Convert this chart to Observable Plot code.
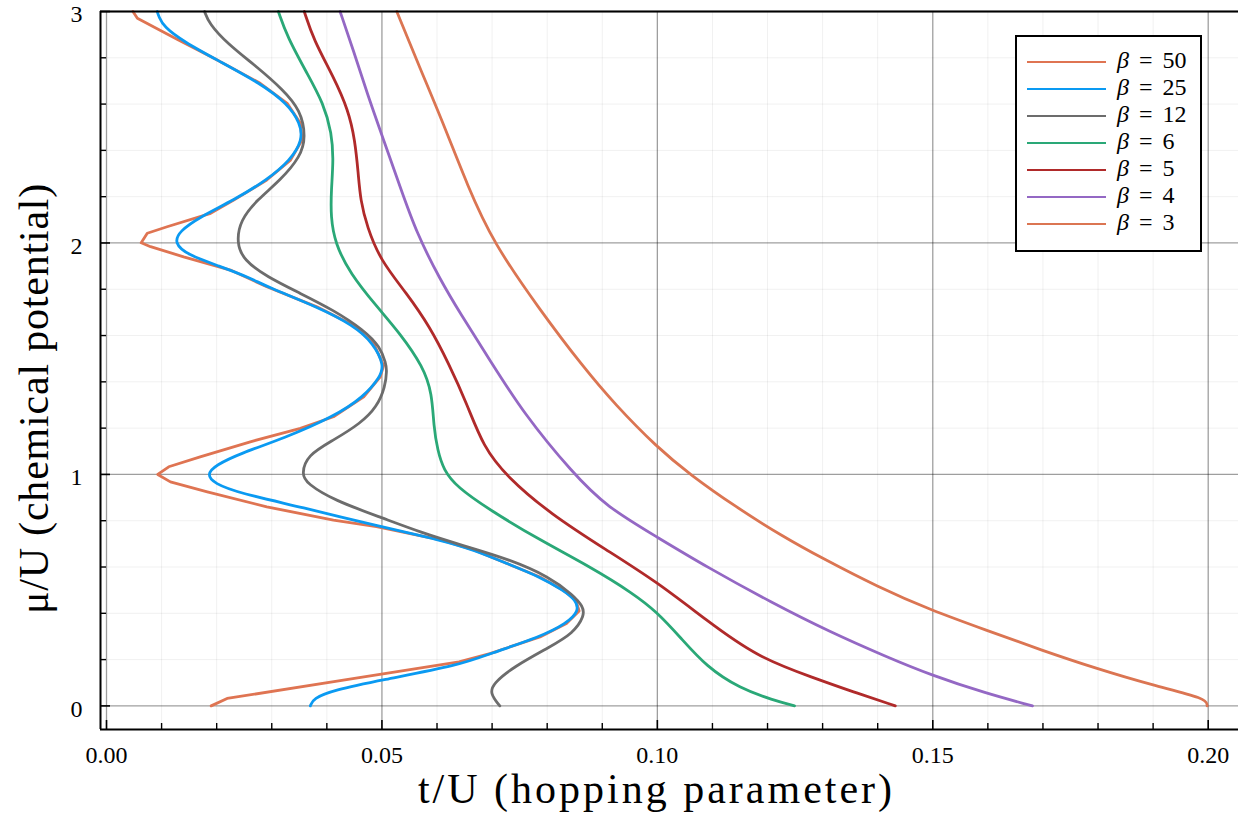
<!DOCTYPE html>
<html>
<head>
<meta charset="utf-8">
<script src="https://cdn.jsdelivr.net/npm/d3@7"></script>
<script src="https://cdn.jsdelivr.net/npm/@observablehq/plot@0.6"></script>
<style>
  body { margin: 0; background: #fff; }
  #wrap { position: relative; width: 1238px; height: 820px; overflow: hidden; }
  #chart svg { display: block; }
  #legend { position: absolute; left: 1015px; top: 35px; width: 183px; height: 213px;
            border: 2px solid #000; background: #fff;
            font-family: "Liberation Serif", serif; font-size: 24px; color: #000; }
  .row { position: absolute; left: 0; height: 27px; width: 100%; }
  .swatch { position: absolute; left: 10px; top: 12px; width: 79px; height: 0; border-top: 2.8px solid; }
  .lab { position: absolute; left: 100px; top: -2px; line-height: 27px; word-spacing: 4px; white-space: nowrap; }
  .lab i { font-style: italic; }
</style>
</head>
<body>
<div id="wrap">
  <div id="chart"></div>
  <div id="legend"></div>
</div>
<script>
// ---------- data: [mu/U, t/U] pairs ----------
const beta50 = [[0.000,0.0190],[0.032,0.0219],[0.111,0.0430],[0.190,0.0640],[0.226,0.0696],[0.298,0.0787],[0.356,0.0835],[0.410,0.0858],[0.457,0.0852],[0.500,0.0829],[0.557,0.0787],[0.615,0.0727],[0.673,0.0668],[0.716,0.0608],[0.774,0.0490],[0.803,0.0412],[0.860,0.0291],[0.925,0.0183],[0.968,0.0116],[1.000,0.0093],[1.033,0.0113],[1.076,0.0170],[1.141,0.0261],[1.199,0.0352],[1.249,0.0412],[1.335,0.0467],[1.422,0.0497],[1.470,0.0503],[1.566,0.0485],[1.645,0.0448],[1.724,0.0382],[1.811,0.0291],[1.883,0.0225],[1.940,0.0140],[1.984,0.0080],[2.001,0.0063],[2.042,0.0074],[2.070,0.0110],[2.128,0.0189],[2.185,0.0231],[2.272,0.0291],[2.358,0.0334],[2.445,0.0355],[2.517,0.0352],[2.603,0.0328],[2.690,0.0279],[2.798,0.0195],[2.880,0.0128],[2.971,0.0056],[3.000,0.0048]];
const beta25 = [[0.000,0.0370],[0.032,0.0375],[0.068,0.0412],[0.111,0.0497],[0.176,0.0642],[0.226,0.0696],[0.298,0.0787],[0.356,0.0835],[0.410,0.0858],[0.457,0.0852],[0.500,0.0829],[0.557,0.0787],[0.615,0.0727],[0.673,0.0668],[0.716,0.0608],[0.774,0.0497],[0.860,0.0352],[0.918,0.0243],[0.961,0.0195],[1.000,0.0182],[1.040,0.0198],[1.091,0.0243],[1.156,0.0322],[1.249,0.0412],[1.335,0.0467],[1.422,0.0497],[1.470,0.0504],[1.566,0.0485],[1.645,0.0448],[1.724,0.0382],[1.811,0.0291],[1.850,0.0260],[1.900,0.0205],[1.950,0.0146],[2.000,0.0123],[2.050,0.0132],[2.113,0.0170],[2.185,0.0231],[2.272,0.0291],[2.358,0.0334],[2.445,0.0356],[2.517,0.0352],[2.603,0.0328],[2.690,0.0279],[2.790,0.0201],[2.870,0.0140],[2.934,0.0104],[2.978,0.0095],[3.000,0.0092]];
const beta12 = [[0.000,0.0714],[0.054,0.0696],[0.097,0.0702],[0.169,0.0739],[0.255,0.0805],[0.313,0.0847],[0.390,0.0868],[0.430,0.0865],[0.478,0.0847],[0.557,0.0805],[0.637,0.0727],[0.694,0.0645],[0.750,0.0570],[0.810,0.0503],[0.889,0.0412],[0.961,0.0364],[1.000,0.0354],[1.083,0.0364],[1.148,0.0412],[1.220,0.0461],[1.292,0.0491],[1.379,0.0506],[1.451,0.0509],[1.480,0.0507],[1.551,0.0497],[1.624,0.0467],[1.710,0.0412],[1.782,0.0352],[1.854,0.0291],[1.926,0.0249],[2.001,0.0236],[2.099,0.0243],[2.185,0.0273],[2.272,0.0316],[2.372,0.0352],[2.459,0.0362],[2.574,0.0352],[2.661,0.0321],[2.761,0.0273],[2.862,0.0219],[2.949,0.0186],[3.000,0.0178]];
const beta6 = [[0.000,0.1249],[0.025,0.1210],[0.075,0.1150],[0.169,0.1089],[0.298,0.1041],[0.406,0.0999],[0.486,0.0956],[0.601,0.0878],[0.716,0.0787],[0.846,0.0696],[0.946,0.0636],[1.019,0.0612],[1.105,0.0601],[1.206,0.0594],[1.350,0.0591],[1.465,0.0575],[1.609,0.0533],[1.724,0.0491],[1.869,0.0442],[1.998,0.0415],[2.113,0.0407],[2.229,0.0408],[2.358,0.0412],[2.474,0.0409],[2.603,0.0394],[2.733,0.0364],[2.891,0.0328],[3.000,0.0312]];
const beta5 = [[0.000,0.1432],[0.061,0.1355],[0.120,0.1285],[0.212,0.1180],[0.370,0.1089],[0.536,0.0999],[0.673,0.0908],[0.831,0.0805],[0.990,0.0727],[1.119,0.0684],[1.307,0.0654],[1.480,0.0621],[1.638,0.0587],[1.782,0.0545],[1.926,0.0497],[2.070,0.0473],[2.185,0.0461],[2.301,0.0457],[2.445,0.0451],[2.574,0.0439],[2.718,0.0412],[2.877,0.0376],[3.000,0.0359]];
const beta4 = [[0.000,0.1681],[0.054,0.1597],[0.133,0.1497],[0.212,0.1416],[0.320,0.1313],[0.443,0.1210],[0.601,0.1089],[0.730,0.0999],[0.860,0.0908],[1.004,0.0847],[1.264,0.0757],[1.494,0.0696],[1.696,0.0642],[1.840,0.0606],[2.042,0.0563],[2.243,0.0533],[2.445,0.0503],[2.647,0.0473],[2.834,0.0448],[3.000,0.0424]];
const beta3 = [[0.000,0.1998],[0.032,0.1998],[0.089,0.1899],[0.162,0.1796],[0.241,0.1697],[0.327,0.1597],[0.414,0.1496],[0.514,0.1400],[0.637,0.1300],[0.730,0.1229],[0.860,0.1142],[1.000,0.1059],[1.118,0.0999],[1.300,0.0924],[1.465,0.0865],[1.710,0.0787],[2.001,0.0702],[2.243,0.0656],[2.531,0.0609],[2.761,0.0568],[3.000,0.0527]];

const seriesLabels = ["β = 50", "β = 25", "β = 12", "β = 6", "β = 5", "β = 4", "β = 3"];
const seriesData   = [beta50, beta25, beta12, beta6, beta5, beta4, beta3];
const seriesColors = ["#DF7452", "#0A9AF2", "#6C6C6C", "#2AA877", "#B02A2A", "#9468C4", "#DB7552"];

const xMajor = [0, 0.05, 0.10, 0.15, 0.20];
const xMinor = [0.01,0.02,0.03,0.04,0.06,0.07,0.08,0.09,0.11,0.12,0.13,0.14,0.16,0.17,0.18,0.19];
const yMajor = [0, 1, 2, 3];
const yMinor = [0.2,0.4,0.6,0.8,1.2,1.4,1.6,1.8,2.2,2.4,2.6,2.8];
const X_DOMAIN = [-0.00109, 0.2055];
const Y_DOMAIN = [-0.102, 3.0];
const X_TITLE = "t/U (hopping parameter)";
const Y_TITLE = "μ/U (chemical potential)";

// ---------- table ----------
const rows = seriesData.flatMap((arr, i) => arr.map(([mu, t]) => ({series: seriesLabels[i], mu, t})));
const sharp = rows.filter(d => d.series === seriesLabels[0]);
const smooth = rows.filter(d => d.series !== seriesLabels[0]);

const axisFont = 24;
const plot = Plot.plot({
  width: 1238,
  height: 820,
  marginLeft: 100,
  marginRight: 0,
  marginTop: 11,
  marginBottom: 91,
  style: {fontFamily: "'Liberation Serif', serif", background: "#fff", color: "#000"},
  x: {domain: X_DOMAIN, axis: null},
  y: {domain: Y_DOMAIN, axis: null},
  color: {domain: seriesLabels, range: seriesColors},
  marks: [
    Plot.gridX(xMinor, {stroke: "#000", strokeOpacity: 0.06, strokeWidth: 1}),
    Plot.gridY(yMinor, {stroke: "#000", strokeOpacity: 0.06, strokeWidth: 1}),
    Plot.gridX(xMajor, {stroke: "#000", strokeOpacity: 0.38, strokeWidth: 1.3}),
    Plot.gridY(yMajor, {stroke: "#000", strokeOpacity: 0.38, strokeWidth: 1.3}),
    Plot.line(sharp, {x: "t", y: "mu", z: "series", stroke: "series", strokeWidth: 2.8, curve: "linear"}),
    Plot.line(smooth, {x: "t", y: "mu", z: "series", stroke: "series", strokeWidth: 2.8, curve: "basis"}),
    Plot.ruleX([X_DOMAIN[0]], {stroke: "#000", strokeWidth: 2}),
    Plot.ruleY([Y_DOMAIN[0]], {stroke: "#000", strokeWidth: 2}),
    Plot.ruleY([Y_DOMAIN[1]], {stroke: "#000", strokeWidth: 2}),
    Plot.axisX(xMajor, {anchor: "bottom", tickSize: 0, tickPadding: 16, tickFormat: d3.format(".2f"), fontSize: axisFont, label: null}),
    Plot.axisX(xMajor, {anchor: "bottom", tickSize: -9, tickFormat: () => "", strokeWidth: 1.6, label: null}),
    Plot.axisX(xMinor, {anchor: "bottom", tickSize: -6, tickFormat: () => "", strokeWidth: 1.4, label: null}),
    Plot.axisY(yMajor, {anchor: "left", tickSize: 0, tickPadding: 18, dy: 3, tickFormat: d3.format("d"), fontSize: axisFont, label: null}),
    Plot.axisY(yMajor, {anchor: "left", tickSize: -10, tickFormat: () => "", strokeWidth: 1.6, label: null}),
    Plot.axisY(yMinor, {anchor: "left", tickSize: -6, tickFormat: () => "", strokeWidth: 1.4, label: null}),
    Plot.text([X_TITLE], {text: d => d, frameAnchor: "bottom", textAnchor: "middle", lineAnchor: "middle", dx: -13, dy: 60, fontSize: 42, fill: "#000"}),
    Plot.text([Y_TITLE], {text: d => d, frameAnchor: "left", textAnchor: "middle", lineAnchor: "middle", rotate: -90, dx: -66, dy: 28, fontSize: 42, fill: "#000"})
  ]
});
document.getElementById("chart").appendChild(plot);
d3.select(plot).selectAll("text").filter(function() { return this.textContent === X_TITLE; }).attr("letter-spacing", "3px");
d3.select(plot).selectAll("text").filter(function() { return this.textContent === Y_TITLE; }).attr("letter-spacing", "0.8px");

// ---------- legend ----------
const legend = d3.select("#legend");
seriesLabels.forEach((lab, i) => {
  const row = legend.append("div").attr("class", "row").style("top", (11.7 + i * 27.1) + "px");
  row.append("div").attr("class", "swatch").style("border-top-color", seriesColors[i]);
  const [b, rest] = lab.split(" = ");
  row.append("div").attr("class", "lab").html(`<i>${b}</i> = ${rest}`);
});
</script>
</body>
</html>
